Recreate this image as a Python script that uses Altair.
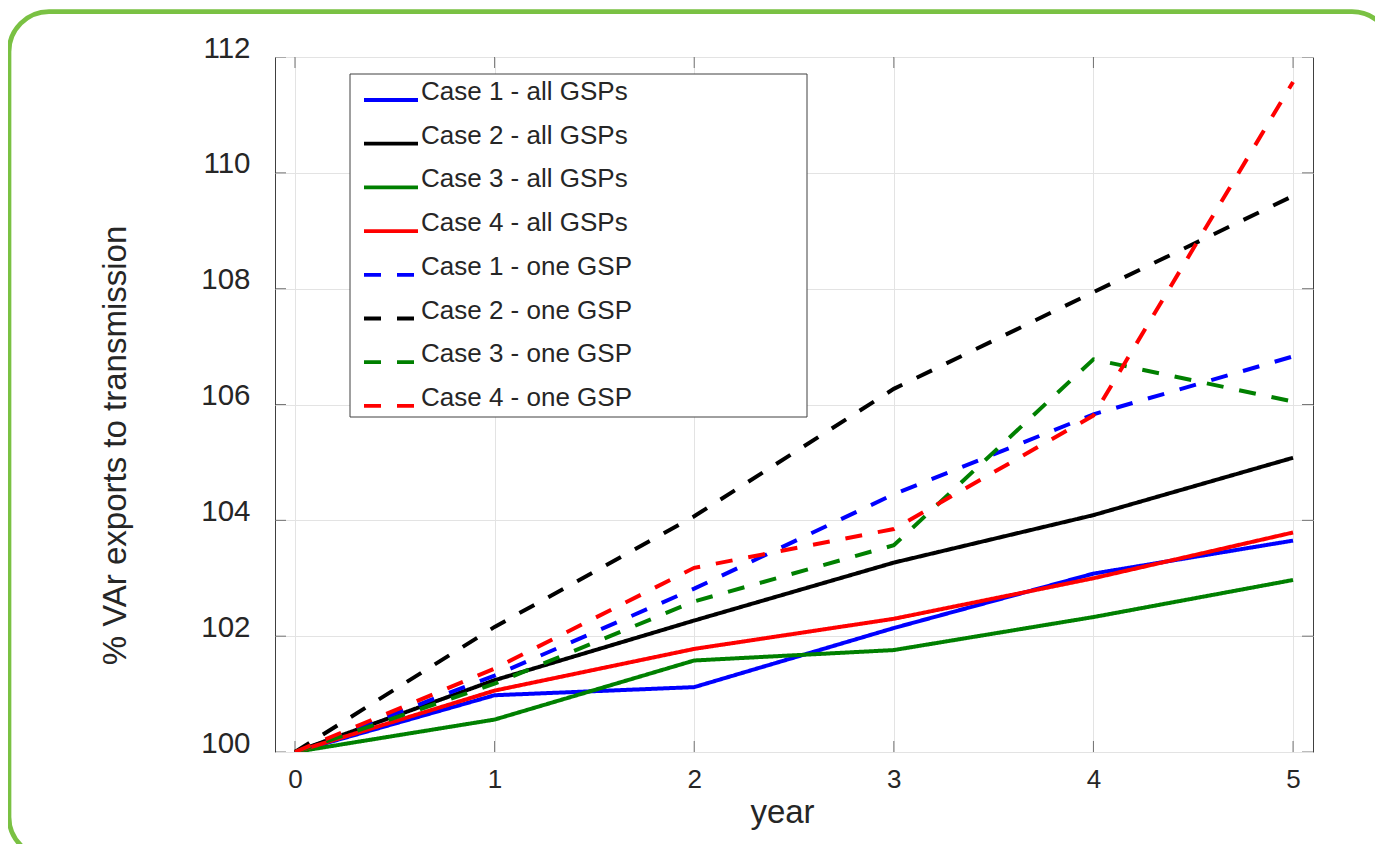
import altair as alt
import pandas as pd

# ---- data ----
years = [0, 1, 2, 3, 4, 5]
series_names = [
    "Case 1 - all GSPs", "Case 2 - all GSPs", "Case 3 - all GSPs", "Case 4 - all GSPs",
    "Case 1 - one GSP", "Case 2 - one GSP", "Case 3 - one GSP", "Case 4 - one GSP",
]
series_colors = ["#0000ff", "#000000", "#008000", "#ff0000",
                 "#0000ff", "#000000", "#008000", "#ff0000"]
case1_all = [100, 100.98, 101.12, 102.14, 103.08, 103.65]
case2_all = [100, 101.24, 102.27, 103.27, 104.09, 105.08]
case3_all = [100, 100.56, 101.58, 101.76, 102.33, 102.97]
case4_all = [100, 101.06, 101.78, 102.30, 103.00, 103.79]
case1_one = [100, 101.32, 102.82, 104.45, 105.83, 106.83]
case2_one = [100, 102.16, 104.07, 106.27, 107.94, 109.60]
case3_one = [100, 101.18, 102.60, 103.57, 106.78, 106.05]
case4_one = [100, 101.44, 103.18, 103.85, 105.81, 111.57]
all_values = [case1_all, case2_all, case3_all, case4_all,
              case1_one, case2_one, case3_one, case4_one]

x_ticks = [0, 1, 2, 3, 4, 5]
y_ticks = [100, 102, 104, 106, 108, 110, 112]
x_limits = [-0.1, 5.1]
y_limits = [100, 112]

rows = []
for name, vals in zip(series_names, all_values):
    for x, v in zip(years, vals):
        rows.append({"year": x, "value": v, "series": name})
df = pd.DataFrame(rows)

dash_range = [[1, 0]] * 4 + [[17, 16]] * 4

FONT = "Arial"
TXT = "#262626"
AXC = "#404040"

xscale = alt.Scale(domain=x_limits, nice=False, zero=False)
yscale = alt.Scale(domain=y_limits, nice=False, zero=False)

legend = alt.Legend(
    title=None, orient="none", legendX=75, legendY=17, direction="vertical",
    symbolType="M-1,0L3.5,0", symbolSize=576, symbolStrokeWidth=3.8,
    labelFont=FONT, labelFontSize=26, labelColor=TXT, labelBaseline="alphabetic",
    labelOffset=31, labelLimit=1000, rowPadding=14.7, padding=12,
)

x_axis = alt.Axis(
    values=x_ticks, format="d", title="year", grid=True, gridColor="#e3e3e3", ticks=False, tickSize=0,
    domain=False, labelFont=FONT, labelFontSize=26, labelColor=TXT, labelPadding=35,
    labelBaseline="alphabetic", titleFont=FONT, titleFontSize=33, titleFontWeight="normal",
    titleColor=TXT, titleX=507, titleY=70, titleBaseline="alphabetic",
)
y_axis = alt.Axis(
    values=y_ticks, format="d", title="% VAr exports to transmission", grid=True, gridColor="#e3e3e3",
    ticks=False, tickSize=0, domain=False, labelFont=FONT, labelFontSize=29.5, labelColor=TXT,
    labelPadding=25, labelBaseline="alphabetic", titleFont=FONT, titleFontSize=33,
    titleFontWeight="normal", titleColor=TXT, titleX=-160, titleY=388, titleBaseline="middle",
)

layers = []
for name in series_names:
    sub = df[df["series"] == name]
    layers.append(
        alt.Chart(sub).mark_line(strokeWidth=4, clip=True).encode(
            x=alt.X("year:Q", scale=xscale, axis=x_axis),
            y=alt.Y("value:Q", scale=yscale, axis=y_axis),
            color=alt.Color("series:N", scale=alt.Scale(domain=series_names, range=series_colors), legend=legend),
            strokeDash=alt.StrokeDash("series:N", scale=alt.Scale(domain=series_names, range=dash_range), legend=legend),
        )
    )

# inward axis ticks (MATLAB style), from the tick lists
ytick_df = pd.DataFrame([{"x": xl, "y": v} for v in y_ticks for xl in x_limits])
xtick_df = pd.DataFrame([{"x": v, "y": yl} for v in x_ticks for yl in y_limits])
yticks = alt.Chart(ytick_df).mark_tick(orient="horizontal", size=22, thickness=1, color=AXC, clip=True).encode(
    x=alt.X("x:Q", scale=xscale), y=alt.Y("y:Q", scale=yscale))
xticks = alt.Chart(xtick_df).mark_tick(orient="vertical", size=22, thickness=1, color=AXC, clip=True).encode(
    x=alt.X("x:Q", scale=xscale), y=alt.Y("y:Q", scale=yscale))

# green rounded page frame
frame = alt.Chart(alt.Data(values=[{"k": 0}])).mark_rect(
    fillOpacity=0, stroke="#7ac143", strokeWidth=4.7, cornerRadius=40, clip=False
).encode(x=alt.value(-266), x2=alt.value(1117), y=alt.value(-45.3), y2=alt.value(800))

# legend box (MATLAB legend frame is wider than its entries)
legend_box = alt.Chart(alt.Data(values=[{"k": 0}])).mark_rect(
    fill="white", stroke=AXC, strokeWidth=1, clip=False
).encode(x=alt.value(75), x2=alt.value(532), y=alt.value(17), y2=alt.value(360))

chart = alt.layer(frame, yticks, xticks, *layers, legend_box).properties(
    width=1038, height=695,
    autosize=alt.AutoSizeParams(type="none"),
    padding={"left": 267, "top": 49, "right": 62, "bottom": 92},
).configure_view(stroke=AXC, strokeWidth=1)

chart.save("out.html", embed_options={"renderer": "svg", "actions": False})
